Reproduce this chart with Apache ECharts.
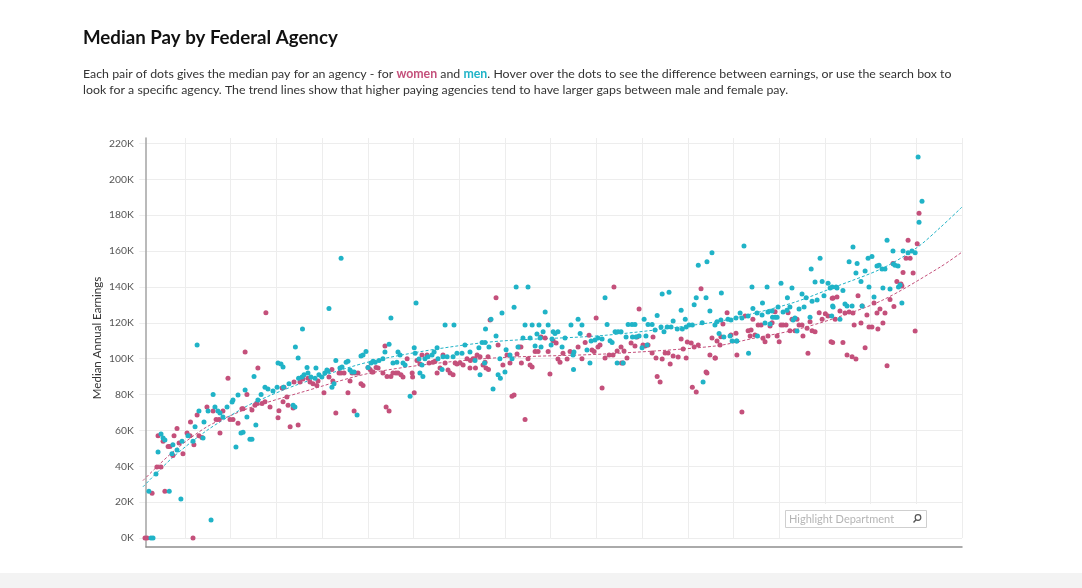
<!DOCTYPE html>
<html><head><meta charset="utf-8">
<script src="https://cdn.jsdelivr.net/npm/echarts@6/dist/echarts.min.js"></script>
<style>html,body{margin:0;padding:0;background:#fff}#c{width:1082px;height:588px}</style>
</head><body><div id="c"></div>
<script>
// y axis tick values (thousands of dollars)
const yTickValues = [0,20,40,60,80,100,120,140,160,180,200,220];
// agencies: [position rank, median pay in $K]
const menPay = [[5.1,0],[6.0,0],[4.2,26],[7.3,35.7],[8.2,48],[9.5,58],[10.4,55.7],[11.2,54.6],[13.1,26],[14.3,47],[14.7,52],[16.5,49],[18.2,21.7],[18.7,54],[21.3,57],[23.5,54],[24.4,62],[25.3,107.6],[26.1,70.8],[27.9,55.7],[28.3,64.7],[30.1,70.8],[31.4,10],[32.3,80],[33.1,73],[34.4,70.8],[35.3,69.7],[36.6,67.5],[38.4,73],[40.6,75.8],[41.0,77],[42.3,50.7],[43.2,79.7],[44.5,58.5],[45.4,59],[46.3,82.5],[47.1,67.5],[48.4,55],[49.3,55],[50.2,90],[51.0,63],[51.9,77],[53.3,80],[55.0,84],[56.3,83],[58.5,82],[60.3,84],[60.7,97.5],[62.0,97],[62.9,95.3],[63.1,84],[65.5,86],[67.3,74],[68.1,73],[68.3,106.5],[69.5,100.3],[69.7,89],[71.2,89.7],[71.4,116.5],[72.1,91],[73.4,95],[73.8,92],[75.1,89.7],[76.9,89],[77.3,94.8],[78.6,91],[79.9,89.7],[81.2,92],[82.1,93.6],[82.6,93],[83.0,128],[84.3,84],[85.2,86],[86.0,99],[87.8,94.8],[88.3,156],[88.7,95.3],[90.5,98],[91.3,98.6],[92.2,93.6],[93.1,92.5],[94.0,92.5],[95.3,68.6],[97.0,101.5],[97.9,102],[99.2,104],[100.1,95],[101.4,97.5],[102.3,98.6],[103.2,98],[104.9,99],[106.6,100],[107.5,103.7],[109.3,108],[110.1,122.6],[111.0,97.5],[112.7,98],[113.2,103.7],[114.1,102],[115.4,97.5],[116.3,96.4],[118.5,79],[120.3,106],[120.7,103],[121.1,131],[122.4,99.8],[122.8,92],[123.7,96.4],[124.1,90],[125.0,100],[126.3,101],[128.1,102],[129.0,103.7],[130.3,106],[130.7,100],[132.5,94],[132.9,101],[133.8,118.7],[134.7,101],[137.3,101],[137.7,118.7],[139.0,103],[141.2,103],[142.5,107.6],[144.7,103.7],[146.9,99],[148.6,106],[149.1,91],[150.0,109],[151.1,97.5],[151.3,109],[151.5,116.5],[153.0,106.5],[153.9,122],[154.8,83],[156.1,112.6],[157.0,91],[157.8,100],[158.0,89],[158.7,125.4],[160.0,92.5],[160.5,105],[162.2,102],[163.1,100],[164.0,128.7],[164.9,140],[165.7,106.5],[167.9,111.5],[168.8,118.7],[170.1,140],[171.0,111.5],[171.9,118.7],[173.2,107],[174.0,113.7],[174.9,118.7],[175.4,111.5],[175.8,106.5],[176.7,115],[177.6,126],[178.9,118.7],[180.2,107.6],[180.6,111],[181.1,115],[181.9,114],[183.2,115],[185.0,106.5],[186.3,111.5],[188.9,118.7],[189.8,102],[190.0,94],[190.2,103.7],[192.0,122],[192.9,114],[193.7,118.7],[195.9,104.8],[197.2,97.5],[197.7,109.8],[199.4,110.4],[200.7,111.5],[202.5,111],[203.8,134],[204.7,119],[206.0,110],[206.9,109],[208.2,115],[209.1,97.5],[209.5,115],[210.8,115],[211.7,97.5],[213.0,112],[213.9,119],[215.6,119],[215.8,112],[216.9,119],[217.3,112],[218.7,112.6],[220.0,106],[220.9,122],[221.7,112.6],[222.2,107.6],[222.6,119],[224.4,119],[225.7,116],[226.6,124],[228.3,117.6],[228.8,136],[229.6,115],[231.0,117.6],[231.8,137],[232.7,117.6],[233.6,121],[235.4,116.5],[237.1,127],[237.6,116.5],[238.9,122],[239.3,117.6],[240.6,118.7],[242.0,118.7],[242.8,130],[243.7,134],[244.6,152],[246.3,120],[246.7,87],[248.0,134],[248.4,154],[249.7,126.5],[250.6,159],[251.9,118.7],[252.8,120.5],[253.7,114],[254.5,121.5],[254.7,136.6],[255.8,112],[257.6,122],[258.5,112.6],[258.9,121.5],[259.4,109.8],[261.1,122.6],[261.3,109.8],[261.5,109.8],[262.9,125.4],[263.7,122.6],[264.6,162.8],[266.4,123.7],[266.6,103],[268.1,140],[268.5,128],[270.3,125.4],[270.5,112.6],[272.5,124.3],[272.7,131],[273.8,119.8],[274.7,140],[275.1,126],[276.0,119.3],[276.9,126.5],[277.1,123],[278.2,123],[279.1,123],[279.5,128.8],[280.8,142],[281.7,126],[283.4,127],[283.6,134],[284.7,128.8],[285.6,139.4],[286.1,121.5],[286.9,122.6],[287.8,115.4],[288.7,127.6],[290.0,136],[290.9,128.8],[291.8,134],[293.5,123],[294.0,150],[294.4,132],[295.7,142.7],[296.6,132.7],[297.9,156],[298.8,143],[299.6,135],[301.4,142],[302.3,139.4],[303.0,123.7],[303.2,140],[303.4,129.3],[303.6,128.8],[304.9,140],[305.3,139.4],[306.6,122],[307.9,138],[308.8,130.4],[309.7,129.3],[310.6,154],[311.9,129.3],[312.3,162.3],[313.6,147.7],[314.1,153],[315.8,143],[316.3,129.3],[317.6,148.8],[318.9,156],[319.3,140],[320.6,157],[321.5,134.4],[322.8,151.6],[323.7,152],[325.0,150],[325.4,139.4],[326.3,150],[327.2,166],[328.5,138.8],[329.8,160],[330.0,152.7],[330.7,152],[332.0,151.6],[332.2,140],[332.9,141],[333.7,131],[334.2,160],[336.4,159],[338.1,160],[339.5,159],[340.8,212.4],[341.2,176],[342.5,187.8]];
const womenPay = [[2.5,0],[3.4,0],[5.6,25],[11.2,26],[7.7,39.6],[9.5,39.6],[8.2,57],[10.4,54],[12.6,51],[13.4,51],[14.7,46],[15.2,57],[16.5,61],[17.4,53],[19.1,47],[20.9,58.5],[22.2,57],[22.4,64.7],[23.5,0],[23.9,52],[25.3,68.6],[26.1,57],[27.4,56],[29.6,73],[32.3,70.8],[33.6,66],[34.9,66],[35.3,58.5],[36.6,70.8],[38.8,89],[39.7,66],[41.0,66],[43.2,64],[44.9,72],[45.4,72],[46.3,103.7],[47.1,80],[49.3,71.4],[50.6,74],[51.5,75],[51.9,94.8],[53.7,75],[55.0,76],[55.4,125.6],[57.2,73],[60.7,67],[61.1,71],[62.5,83.6],[62.9,76],[63.3,84],[64.6,78.6],[65.1,74],[66.0,62],[67.3,72.5],[67.7,87],[69.5,63],[70.3,87],[71.6,88.6],[73.8,89],[74.7,87],[76.0,86],[77.7,85],[78.2,87.5],[80.8,81],[83.0,89.7],[84.3,94],[84.7,87.5],[86.0,69.7],[87.4,92],[88.3,92],[89.6,92],[91.3,81],[92.2,87.5],[93.1,92],[94.0,70.8],[94.4,92],[95.7,92],[97.0,86],[97.9,85],[100.1,95],[101.0,94],[101.8,92.5],[102.3,92.5],[103.6,95],[104.5,94.8],[106.6,92],[107.5,107],[108.0,73],[108.4,90],[109.3,70.8],[110.1,90],[111.0,92],[112.3,92],[113.2,92],[114.5,91],[115.4,89.7],[117.2,100],[119.4,92],[119.6,89.7],[120.3,81],[121.5,99],[122.8,97],[123.7,102],[125.9,102],[126.8,97.5],[128.5,98],[129.4,98.6],[130.3,92],[131.6,94.8],[132.9,102],[133.8,97.5],[135.1,93.6],[136.0,92],[137.3,91],[138.2,97.5],[139.0,97],[140.4,97.5],[141.7,96.4],[143.4,100],[144.7,94.8],[144.9,99],[146.0,100],[146.9,100],[147.1,94.8],[147.8,102],[149.1,101],[150.4,96.4],[151.3,98],[151.7,94.8],[152.6,101],[152.8,94],[153.5,121.5],[156.1,134],[157.0,107.6],[159.1,96.5],[160.9,102],[162.2,97.5],[163.1,79],[164.0,79.7],[165.3,102.6],[166.2,106.5],[167.0,106.5],[167.2,97.5],[168.8,66],[170.1,100],[171.0,96.5],[171.9,95.4],[173.2,104],[174.5,104],[175.8,112],[177.6,111.5],[178.9,104],[179.7,91.4],[181.1,110],[182.4,108.7],[183.2,99.8],[184.1,98],[185.4,103],[187.2,99.8],[188.5,104],[189.8,103],[192.0,106.5],[193.7,100],[195.1,109],[196.8,113],[198.1,104.8],[199.0,104],[199.9,122.6],[200.7,106.5],[201.6,107.6],[202.5,83.6],[203.8,100.3],[205.6,102],[207.3,102],[207.7,140],[209.1,104.2],[210.8,106.5],[211.0,97.5],[211.7,97.5],[212.1,104.2],[213.4,100.3],[215.2,108.7],[216.9,107],[217.8,112],[218.7,127.6],[220.4,107.6],[221.3,107],[222.6,107.6],[224.4,103.1],[224.8,112],[226.1,100.3],[226.6,90],[227.9,87],[228.8,99.8],[230.1,103.1],[231.4,103.1],[232.3,97],[233.6,101.4],[235.8,100.9],[237.1,110.9],[238.0,105.4],[239.3,100.3],[239.8,109.3],[241.5,108.7],[242.0,84],[242.8,106.5],[243.7,81.4],[244.6,107.6],[245.8,139],[248.0,92.5],[248.4,92],[249.7,102],[250.6,111.5],[251.9,100.3],[252.1,100.3],[252.8,109.8],[254.1,107.6],[254.5,112.2],[255.4,119.3],[257.2,125.6],[258.9,113.2],[261.1,114.1],[261.5,102],[263.7,70.2],[265.1,123.7],[266.4,115.6],[267.3,112.6],[267.7,116],[268.5,121.9],[269.4,113.2],[270.8,118.7],[272.1,118.7],[272.9,111.3],[273.8,109.4],[275.1,112.6],[276.0,118.2],[276.9,120],[278.2,126.1],[279.1,112.6],[280.0,109.4],[280.8,118.7],[281.7,118.7],[283.0,118.7],[283.9,125.6],[284.7,115.6],[285.6,121.9],[286.9,115.6],[287.8,121.9],[288.7,118.7],[290.0,118.7],[290.4,112.6],[292.2,116.9],[292.6,103],[293.5,120.6],[294.4,115.6],[295.7,115],[297.5,125.6],[298.8,121.9],[300.2,125],[301.4,123.7],[302.7,109.4],[303.2,133.6],[303.4,109],[303.6,133.8],[304.5,122],[305.3,134.4],[306.6,126.5],[307.9,109],[308.8,125.4],[309.7,102],[310.6,126],[311.9,101],[312.3,125.4],[312.8,118.7],[313.6,99.8],[314.5,135],[315.8,119.8],[316.3,129.3],[317.6,106],[318.4,124.3],[319.3,117.6],[320.6,117.6],[321.5,131],[322.8,125.4],[323.2,116.5],[324.1,127.6],[325.4,119.8],[326.3,125.4],[327.2,96],[328.5,133],[329.8,153],[330.2,129],[331.5,143],[333.3,141.6],[333.7,140.5],[334.2,148],[335.5,156],[336.4,166],[337.3,156],[338.6,147.7],[339.5,115.4],[340.4,164],[341.2,181]];
// trend lines
const menTrend = [[1.6,28.5],[14.7,45],[29.6,60],[44.1,71.4],[50.6,75.8],[70.3,86],[103.2,99],[151.3,109],[203.8,113],[251.9,120.4],[269.4,125.4],[286.9,131.5],[304.5,140],[325.4,150.5],[340.4,162],[350.4,173],[360,184.5]];
const womenTrend = [[1.6,32],[14.7,48],[29.6,62],[44.1,70.5],[50.6,73.5],[70.3,81],[103.2,92.5],[151.3,100],[203.8,102.6],[251.9,107],[269.4,111.5],[286.9,116],[304.5,122.6],[325.4,132.7],[350.4,151],[360,159.4]];

const PINK = '#c4507b', TEAL = '#20b3c7';
const FONT = 'Lato';
const chart = echarts.init(document.getElementById('c'));
chart.setOption({
  animation: false,
  backgroundColor: '#fff',
  title: [
    {text: 'Median Pay by Federal Agency', left: 83, top: 28, padding: 0,
     textStyle: {fontFamily: FONT, fontWeight: 'bold', fontSize: 18.7, color: '#111'}},
    {text: 'Each pair of dots gives the median pay for an agency - for {w|women} and {m|men}. Hover over the dots to see the difference between earnings, or use the search box to\nlook for a specific agency. The trend lines show that higher paying agencies tend to have larger gaps between male and female pay.',
     left: 83, top: 66, padding: 0,
     textStyle: {fontFamily: FONT, fontSize: 12.35, fontWeight: 'normal', color: '#333', lineHeight: 16,
       rich: {w: {color: PINK, fontWeight: 'bold', fontFamily: FONT, fontSize: 12.35},
              m: {color: TEAL, fontWeight: 'bold', fontFamily: FONT, fontSize: 12.35}}}}
  ],
  grid: [
    {left: 139.3, right: 120, top: 138, bottom: 50},
    {left: 146, right: 120, top: 138, bottom: 41}
  ],
  xAxis: [
    {gridIndex: 0, type: 'value', min: 0, max: 360, interval: 20,
     axisLine: {show: false}, axisTick: {show: false}, axisLabel: {show: false},
     splitLine: {show: true, showMinLine: false, lineStyle: {color: '#ededed', width: 1}}},
    {gridIndex: 1, type: 'value', min: 0, max: 1,
     axisLine: {show: true, onZero: false, lineStyle: {color: '#8f8f8f', width: 1.5}},
     axisTick: {show: false}, axisLabel: {show: false}, splitLine: {show: false}}
  ],
  yAxis: [
    {gridIndex: 0, type: 'value', min: 0, max: 223, interval: 20,
     axisLine: {show: false}, axisTick: {show: false},
     axisLabel: {formatter: v => yTickValues.includes(v) ? v + 'K' : '', showMaxLabel: false,
                 color: '#555', fontSize: 10.3, fontFamily: FONT, margin: 5.5},
     splitLine: {show: true, showMaxLine: false, lineStyle: {color: '#ededed', width: 1}},
     name: 'Median Annual Earnings', nameLocation: 'middle', nameGap: 36, nameMoveOverlap: false,
     nameTextStyle: {fontFamily: FONT, fontSize: 11.5, color: '#333'}},
    {gridIndex: 1, type: 'value', min: 0, max: 1,
     axisLine: {show: true, onZero: false, lineStyle: {color: '#a3a3a3', width: 1.5}},
     axisTick: {show: false}, axisLabel: {show: false}, splitLine: {show: false}}
  ],
  series: [
    {type: 'line', name: 'women trend', data: womenTrend, smooth: 0.3, symbol: 'none', silent: true,
     lineStyle: {color: PINK, width: 1, type: [3, 2]}, z: 2},
    {type: 'line', name: 'men trend', data: menTrend, smooth: 0.3, symbol: 'none', silent: true,
     lineStyle: {color: TEAL, width: 1, type: [3, 2]}, z: 2},
    {type: 'scatter', name: 'women', data: womenPay, symbolSize: 5,
     itemStyle: {color: PINK, opacity: 1}, z: 3},
    {type: 'scatter', name: 'men', data: menPay, symbolSize: 5,
     itemStyle: {color: TEAL, opacity: 1}, z: 4}
  ],
  graphic: [
    {type: 'rect', z: 50, shape: {x: 783, y: 504, width: 146, height: 34}, style: {fill: '#fff'}},
    {type: 'rect', z: 51, shape: {x: 785.5, y: 510.5, width: 141, height: 17},
     style: {fill: '#fff', stroke: '#cfcfcf', lineWidth: 1}},
    {type: 'text', z: 52, x: 789, y: 519,
     style: {text: 'Highlight Department', fill: '#b5b5b5', font: '11px Lato', verticalAlign: 'middle'}},
    {type: 'circle', z: 52, shape: {cx: 918, cy: 517.5, r: 2.8},
     style: {fill: 'none', stroke: '#555', lineWidth: 1.2}},
    {type: 'line', z: 52, shape: {x1: 916, y1: 519.7, x2: 913.5, y2: 522.5},
     style: {stroke: '#555', lineWidth: 1.4}},
    {type: 'rect', z: 1, shape: {x: 0, y: 573, width: 1082, height: 15}, style: {fill: '#f3f3f3'}}
  ]
});
</script>
</body></html>
